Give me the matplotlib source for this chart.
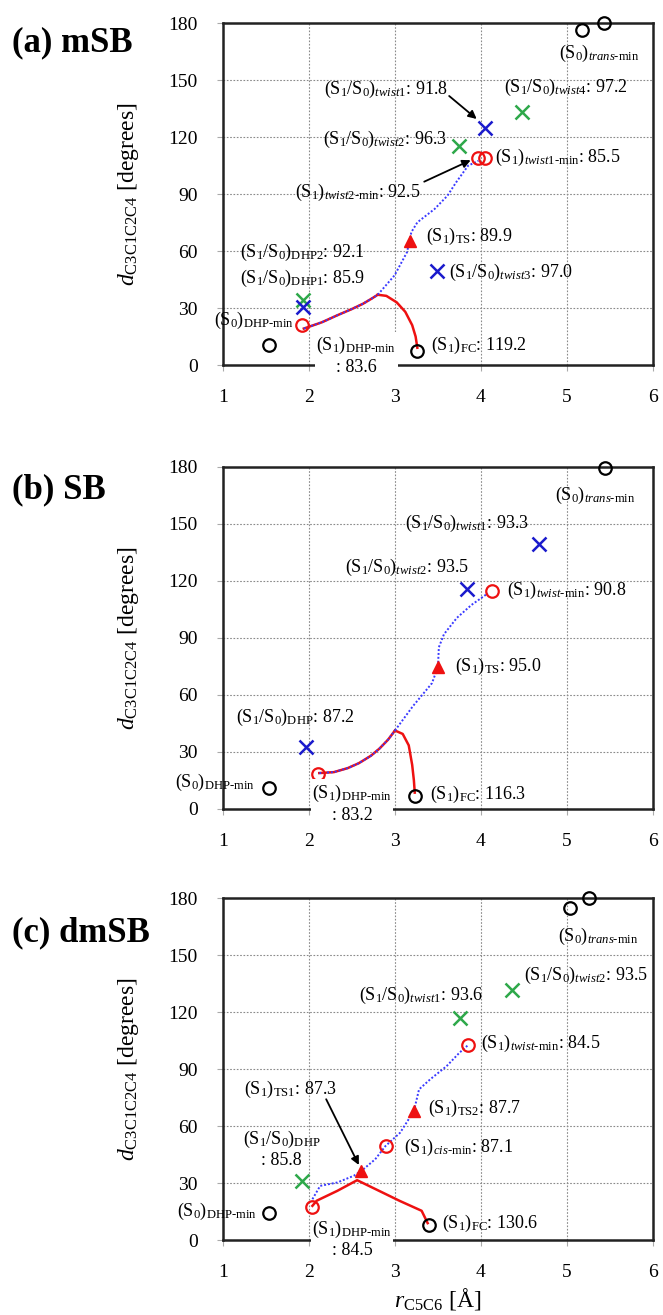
import matplotlib
matplotlib.use('Agg')
import matplotlib.pyplot as plt

plt.rcParams['font.family'] = ['Liberation Serif', 'DejaVu Serif']
plt.rcParams['mathtext.fontset'] = 'custom'
plt.rcParams['mathtext.rm'] = 'Liberation Serif'
plt.rcParams['mathtext.it'] = 'Liberation Serif:italic'
plt.rcParams['mathtext.bf'] = 'Liberation Serif:bold'

# ---------------- data ----------------
# (a) mSB
a_black_x = [1.53, 3.26, 5.18, 5.43]
a_black_y = [10.5, 7.3, 176.5, 180.0]
a_redo_x = [1.92, 3.97, 4.05]
a_redo_y = [21.0, 108.9, 108.9]
a_ts_x = [3.18]
a_ts_y = [65.5]
a_bluex_x = [1.93, 4.05, 3.49]
a_bluex_y = [30.6, 124.6, 49.3]
a_greenx_x = [1.93, 3.74, 4.48]
a_greenx_y = [34.0, 115.3, 133.2]
a_shared_x = [1.94, 2.15, 2.33, 2.50, 2.63, 2.73, 2.80]
a_shared_y = [19.2, 22.5, 26.2, 29.5, 32.3, 35.0, 37.0]
a_red_x = [2.80, 2.90, 3.02, 3.12, 3.20, 3.24, 3.26]
a_red_y = [37.0, 36.4, 33.0, 28.0, 21.0, 15.0, 9.1]
a_blue_x = [2.80, 2.995, 3.14, 3.19, 3.26, 3.46, 3.61, 3.71, 3.85, 3.97]
a_blue_y = [37.0, 47.2, 59.4, 69.9, 75.1, 82.1, 89.1, 96.1, 104.9, 107.5]

# (b) SB
b_black_x = [1.53, 3.23, 5.44]
b_black_y = [11.2, 6.9, 179.7]
b_redo_x = [2.10, 4.13]
b_redo_y = [18.4, 114.7]
b_ts_x = [3.50]
b_ts_y = [74.8]
b_bluex_x = [1.96, 3.84, 4.67]
b_bluex_y = [32.7, 115.7, 139.6]
b_shared_x = [2.12, 2.29, 2.45, 2.58, 2.72, 2.82, 2.92, 3.00]
b_shared_y = [18.9, 19.4, 21.5, 24.1, 28.0, 31.8, 36.5, 41.3]
b_red_x = [3.00, 3.09, 3.16, 3.20, 3.22, 3.23]
b_red_y = [41.3, 39.5, 33.5, 23.2, 15.0, 8.6]
b_blue_x = [3.00, 3.21, 3.43, 3.50, 3.51, 3.57, 3.72, 3.89, 4.08]
b_blue_y = [41.3, 54.2, 66.2, 74.8, 85.1, 92.0, 100.6, 107.4, 113.5]

# (c) dmSB
c_black_x = [1.54, 3.40, 5.04, 5.26]
c_black_y = [14.0, 7.9, 174.7, 180.0]
c_redo_x = [2.04, 2.89, 3.85]
c_redo_y = [17.2, 49.6, 102.6]
c_ts_x = [2.61, 3.22]
c_ts_y = [36.4, 67.9]
c_greenx_x = [1.92, 3.76, 4.36]
c_greenx_y = [31.2, 117.0, 131.8]
c_red_x = [2.04, 2.09, 2.33, 2.56, 3.06, 3.31, 3.38]
c_red_y = [18.0, 20.7, 25.9, 31.5, 20.5, 15.4, 8.9]
c_blue_x = [2.04, 2.13, 2.33, 2.52, 2.61, 2.77, 2.89, 3.06, 3.22, 3.28, 3.41, 3.60, 3.75, 3.85]
c_blue_y = [21.5, 28.5, 30.3, 33.8, 36.4, 42.5, 49.5, 56.5, 67.9, 79.3, 84.6, 91.5, 98.6, 102.6]

RED = '#ee1111'
BLUE = '#1a1acc'
GREEN = '#2ea84a'
DOT = '#3a3aff'
FS = 13


def setup(ax):
    ax.set_xlim(1, 6)
    ax.set_ylim(0, 180)
    ax.set_xticks([1, 2, 3, 4, 5, 6])
    ax.set_yticks([0, 30, 60, 90, 120, 150, 180])
    ax.grid(True, color='#8a8a8a', linestyle=(0, (1.5, 1.5)), linewidth=0.8)
    ax.tick_params(labelsize=14, direction='out', length=4, color='#aaaaaa')
    ax.tick_params(axis='y', pad=14)
    ax.tick_params(axis='x', pad=13)
    for s in ax.spines.values():
        s.set_linewidth(1.8)
        s.set_color('#222222')
    ax.set_ylabel(r'$d_{\mathrm{C3C1C2C4}}$ [degrees]', fontsize=17)
    ax.yaxis.set_label_coords(-0.19, 0.5)


def circles(ax, x, y, c):
    ax.plot(x, y, 'o', ms=9, mfc='none', mec=c, mew=1.6, clip_on=False, zorder=5)


def crosses(ax, x, y, c):
    ax.plot(x, y, 'x', ms=10, color=c, mew=1.8, clip_on=False, zorder=5)


def triangles(ax, x, y):
    ax.plot(x, y, '^', ms=8, color=RED, clip_on=False, zorder=5)


def lab(ax, x, y, s, ha='left', box=False):
    kw = dict(fontsize=FS, ha=ha, va='center', zorder=6, multialignment='center')
    if box:
        kw['bbox'] = dict(facecolor='white', edgecolor='none', pad=1)
    ax.text(x, y, s, **kw)


def arrow(ax, x0, y0, x1, y1):
    ax.annotate('', xy=(x1, y1), xytext=(x0, y0),
                arrowprops=dict(arrowstyle='-|>', color='black', lw=1.3,
                                mutation_scale=12, shrinkA=0, shrinkB=0))


S1S0 = r'(S$_1$/S$_0$)'
S1 = r'(S$_1$)'
S0 = r'(S$_0$)'

fig = plt.figure(figsize=(6.63, 13.15), dpi=100)
ax_a = fig.add_axes([0.3363, 0.7224, 0.6486, 0.2601])
ax_b = fig.add_axes([0.3363, 0.3848, 0.6486, 0.2601])
ax_c = fig.add_axes([0.3363, 0.0570, 0.6486, 0.2601])

# ---------- (a)
ax = ax_a
setup(ax)
ax.plot(a_red_x, a_red_y, color=RED, lw=1.8, zorder=3)
ax.plot(a_shared_x, a_shared_y, color=RED, lw=1.8, zorder=3)
ax.plot(a_shared_x, a_shared_y, color=DOT, lw=1.4, ls=(0, (1, 1)), zorder=3.5)
ax.plot(a_blue_x, a_blue_y, color=DOT, lw=1.4, ls=(0, (1, 1)), zorder=3.5)
circles(ax, a_black_x, a_black_y, 'black')
circles(ax, a_redo_x, a_redo_y, RED)
triangles(ax, a_ts_x, a_ts_y)
crosses(ax, a_greenx_x, a_greenx_y, GREEN)
crosses(ax, a_bluex_x, a_bluex_y, BLUE)
lab(ax, 5.37, 164, S0 + r'$_{\mathit{trans}\mathrm{\text{-}min}}$', ha='center')
lab(ax, 2.18, 145, S1S0 + r'$_{\mathit{twist1}}$: 91.8')
lab(ax, 4.27, 146, S1S0 + r'$_{\mathit{twist4}}$: 97.2')
lab(ax, 2.16, 118.8, S1S0 + r'$_{\mathit{twist2}}$: 96.3')
lab(ax, 4.16, 109.2, S1 + r'$_{\mathit{twist1}\mathrm{\text{-}min}}$: 85.5')
lab(ax, 1.84, 90.9, S1 + r'$_{\mathit{twist2}\mathrm{\text{-}min}}$: 92.5')
lab(ax, 3.36, 67.8, S1 + r'$_{\mathrm{TS}}$: 89.9')
lab(ax, 1.20, 59.4, S1S0 + r'$_{\mathrm{DHP2}}$: 92.1')
lab(ax, 1.20, 45.8, S1S0 + r'$_{\mathrm{DHP1}}$: 85.9')
lab(ax, 3.63, 48.9, S1S0 + r'$_{\mathit{twist3}}$: 97.0')
lab(ax, 0.89, 23.6, S0 + r'$_{\mathrm{DHP\text{-}min}}$')
lab(ax, 2.55, 5.0, S1 + r'$_{\mathrm{DHP\text{-}min}}$' + '\n: 83.6', ha='center', box=True)
lab(ax, 3.42, 10.5, S1 + r'$_{\mathrm{FC}}$: 119.2')
arrow(ax, 3.63, 141.6, 3.95, 129.5)
arrow(ax, 3.34, 96.5, 3.88, 107.8)

# ---------- (b)
ax = ax_b
setup(ax)
ax.plot(b_red_x, b_red_y, color=RED, lw=1.8, zorder=3)
ax.plot(b_shared_x, b_shared_y, color=RED, lw=1.8, zorder=3)
ax.plot(b_shared_x, b_shared_y, color=DOT, lw=1.4, ls=(0, (1, 1)), zorder=3.5)
ax.plot(b_blue_x, b_blue_y, color=DOT, lw=1.4, ls=(0, (1, 1)), zorder=3.5)
circles(ax, b_black_x, b_black_y, 'black')
circles(ax, b_redo_x, b_redo_y, RED)
triangles(ax, b_ts_x, b_ts_y)
crosses(ax, b_bluex_x, b_bluex_y, BLUE)
lab(ax, 5.33, 165, S0 + r'$_{\mathit{trans}\mathrm{\text{-}min}}$', ha='center')
lab(ax, 3.12, 150.4, S1S0 + r'$_{\mathit{twist1}}$: 93.3')
lab(ax, 2.42, 127.2, S1S0 + r'$_{\mathit{twist2}}$: 93.5')
lab(ax, 4.30, 115.2, S1 + r'$_{\mathit{twist}\mathrm{\text{-}min}}$: 90.8')
lab(ax, 3.70, 74.8, S1 + r'$_{\mathrm{TS}}$: 95.0')
lab(ax, 1.15, 48.1, S1S0 + r'$_{\mathrm{DHP}}$: 87.2')
lab(ax, 0.44, 13.8, S0 + r'$_{\mathrm{DHP\text{-}min}}$')
lab(ax, 2.50, 3.0, S1 + r'$_{\mathrm{DHP\text{-}min}}$' + '\n: 83.2', ha='center', box=True)
lab(ax, 3.41, 7.7, S1 + r'$_{\mathrm{FC}}$: 116.3')

# ---------- (c)
ax = ax_c
setup(ax)
ax.plot(c_red_x, c_red_y, color=RED, lw=1.8, zorder=3)
ax.plot(c_blue_x, c_blue_y, color=DOT, lw=1.4, ls=(0, (1, 1)), zorder=3.5)
circles(ax, c_black_x, c_black_y, 'black')
circles(ax, c_redo_x, c_redo_y, RED)
triangles(ax, c_ts_x, c_ts_y)
crosses(ax, c_greenx_x, c_greenx_y, GREEN)
lab(ax, 5.36, 159.9, S0 + r'$_{\mathit{trans}\mathrm{\text{-}min}}$', ha='center')
lab(ax, 4.50, 139.2, S1S0 + r'$_{\mathit{twist2}}$: 93.5')
lab(ax, 2.58, 128.7, S1S0 + r'$_{\mathit{twist1}}$: 93.6')
lab(ax, 4.00, 103.5, S1 + r'$_{\mathit{twist}\mathrm{\text{-}min}}$: 84.5')
lab(ax, 3.38, 69.3, S1 + r'$_{\mathrm{TS2}}$: 87.7')
lab(ax, 3.10, 48.7, S1 + r'$_{\mathit{cis}\mathrm{\text{-}min}}$: 87.1')
lab(ax, 1.24, 79.3, S1 + r'$_{\mathrm{TS1}}$: 87.3')
lab(ax, 1.68, 48.0, S1S0 + r'$_{\mathrm{DHP}}$' + '\n: 85.8', ha='center')
lab(ax, 0.46, 14.9, S0 + r'$_{\mathrm{DHP\text{-}min}}$')
lab(ax, 2.50, 0.5, S1 + r'$_{\mathrm{DHP\text{-}min}}$' + '\n: 84.5', ha='center', box=True)
lab(ax, 3.55, 8.9, S1 + r'$_{\mathrm{FC}}$: 130.6')
arrow(ax, 2.20, 74.1, 2.58, 39.5)
ax.set_xlabel(r'$r_{\mathrm{C5C6}}$ [Å]', fontsize=17)
ax.xaxis.set_label_coords(0.5, -0.135)

# panel titles
fig.text(0.018, 1 - 43 / 1315, '(a) mSB', fontsize=25, fontweight='bold', va='center')
fig.text(0.018, 1 - 490 / 1315, '(b) SB', fontsize=25, fontweight='bold', va='center')
fig.text(0.018, 1 - 933 / 1315, '(c) dmSB', fontsize=25, fontweight='bold', va='center')

fig.savefig('out.png', dpi=100)
